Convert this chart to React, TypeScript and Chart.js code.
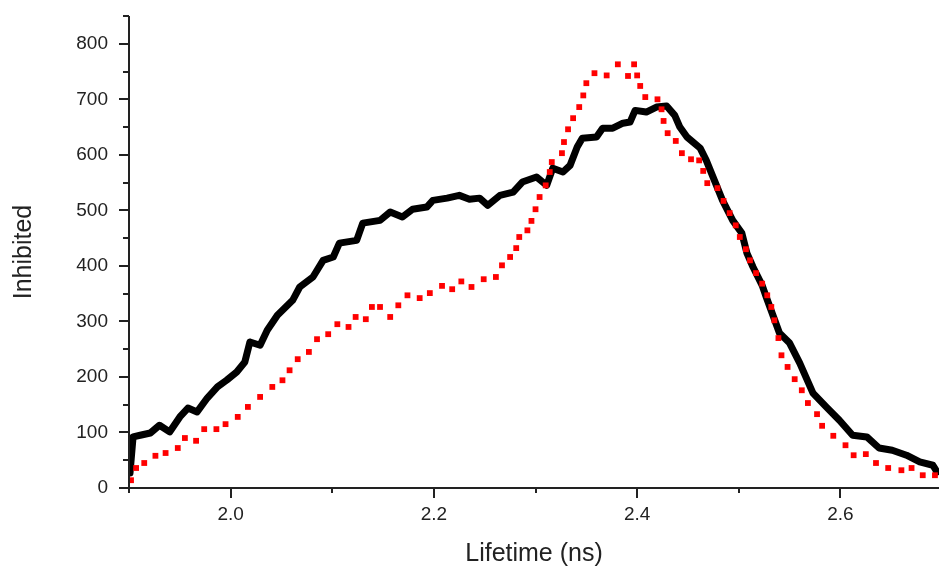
import { useEffect, useRef } from "react";
import { Chart, registerables } from "chart.js";
Chart.register(...registerables);

// Black series (solid line)
const blackX = [1.901, 1.904, 1.911, 1.921, 1.930, 1.940, 1.950, 1.958, 1.967, 1.977, 1.987, 1.996, 2.006, 2.014, 2.019, 2.029, 2.036, 2.046, 2.061, 2.068, 2.081, 2.091, 2.101, 2.107, 2.124, 2.130, 2.147, 2.157, 2.169, 2.179, 2.193, 2.199, 2.213, 2.225, 2.235, 2.245, 2.253, 2.265, 2.278, 2.287, 2.301, 2.311, 2.317, 2.327, 2.334, 2.341, 2.346, 2.360, 2.366, 2.376, 2.386, 2.393, 2.398, 2.409, 2.419, 2.429, 2.437, 2.442, 2.449, 2.462, 2.468, 2.476, 2.484, 2.494, 2.503, 2.508, 2.514, 2.523, 2.527, 2.540, 2.550, 2.560, 2.573, 2.586, 2.599, 2.612, 2.626, 2.638, 2.651, 2.665, 2.678, 2.691, 2.695];
const blackY = [27, 92, 95, 99, 113, 101, 128, 144, 137, 162, 182, 194, 209, 227, 263, 257, 284, 311, 338, 362, 380, 410, 416, 441, 446, 477, 482, 497, 488, 502, 506, 518, 522, 527, 520, 522, 509, 527, 533, 551, 560, 545, 576, 569, 581, 614, 630, 632, 648, 648, 657, 659, 680, 677, 686, 688, 671, 650, 632, 612, 590, 554, 518, 482, 459, 423, 398, 365, 344, 279, 261, 225, 171, 146, 122, 95, 92, 72, 68, 59, 47, 41, 29];

// Red series (square markers)
const redX = [1.902, 1.907, 1.915, 1.926, 1.936, 1.948, 1.955, 1.966, 1.974, 1.986, 1.995, 2.007, 2.017, 2.029, 2.041, 2.051, 2.058, 2.066, 2.077, 2.085, 2.096, 2.105, 2.116, 2.123, 2.133, 2.139, 2.147, 2.157, 2.165, 2.174, 2.186, 2.196, 2.208, 2.218, 2.227, 2.237, 2.249, 2.261, 2.267, 2.275, 2.281, 2.284, 2.292, 2.296, 2.300, 2.304, 2.310, 2.314, 2.316, 2.326, 2.328, 2.332, 2.337, 2.343, 2.347, 2.350, 2.358, 2.370, 2.381, 2.391, 2.397, 2.400, 2.403, 2.408, 2.420, 2.424, 2.426, 2.430, 2.438, 2.444, 2.453, 2.461, 2.465, 2.469, 2.479, 2.485, 2.491, 2.497, 2.501, 2.507, 2.511, 2.517, 2.523, 2.528, 2.532, 2.535, 2.539, 2.542, 2.548, 2.555, 2.562, 2.568, 2.577, 2.582, 2.593, 2.605, 2.613, 2.625, 2.635, 2.647, 2.660, 2.670, 2.681, 2.693];
const redY = [14, 36, 45, 58, 63, 72, 90, 85, 106, 106, 115, 128, 146, 164, 182, 194, 212, 232, 245, 268, 277, 295, 290, 308, 304, 326, 326, 308, 329, 347, 342, 351, 364, 358, 372, 362, 376, 380, 401, 416, 432, 452, 464, 481, 502, 524, 545, 569, 587, 603, 623, 646, 666, 686, 707, 729, 747, 743, 763, 742, 763, 743, 724, 704, 700, 682, 661, 639, 625, 603, 592, 590, 571, 549, 540, 517, 495, 473, 452, 430, 410, 387, 368, 347, 326, 302, 270, 239, 218, 196, 176, 153, 133, 112, 94, 77, 59, 61, 45, 36, 32, 36, 23, 23];

const xMajorTicks = [2.0, 2.2, 2.4, 2.6];
const xMinorTicks = [1.9, 2.1, 2.3, 2.5];
const yMajorTicks = [0, 100, 200, 300, 400, 500, 600, 700, 800];
const yMinorTicks = [50, 150, 250, 350, 450, 550, 650, 750, 850];
const xRange = [1.9, 2.697];
const yRange = [0, 850];
const xTitle = "Lifetime (ns)";
const yTitle = "Inhibited";

const AXIS_COLOR = "#222";
const TEXT_COLOR = "#222";
const FONT = "'Liberation Sans', Arial, sans-serif";

const axisPlugin = {
  id: "originAxes",
  afterDraw(chart: any) {
    const { ctx, chartArea } = chart;
    const xs = chart.scales.x;
    const ys = chart.scales.y;
    const { left, right, top, bottom } = chartArea;
    ctx.save();
    ctx.strokeStyle = AXIS_COLOR;
    ctx.lineWidth = 2;
    ctx.lineCap = "butt";
    ctx.beginPath();
    ctx.moveTo(left, top);
    ctx.lineTo(left, bottom + 1);
    ctx.moveTo(left - 1, bottom);
    ctx.lineTo(right, bottom);
    yMajorTicks.forEach((v) => {
      const p = Math.round(ys.getPixelForValue(v));
      ctx.moveTo(left - 10, p);
      ctx.lineTo(left, p);
    });
    yMinorTicks.forEach((v) => {
      const p = Math.round(ys.getPixelForValue(v));
      ctx.moveTo(left - 6, p);
      ctx.lineTo(left, p);
    });
    xMajorTicks.forEach((v) => {
      const p = Math.round(xs.getPixelForValue(v));
      ctx.moveTo(p, bottom);
      ctx.lineTo(p, bottom + 10);
    });
    xMinorTicks.forEach((v) => {
      const p = Math.round(xs.getPixelForValue(v));
      ctx.moveTo(p, bottom);
      ctx.lineTo(p, bottom + 5);
    });
    ctx.stroke();
    ctx.restore();
  },
};

export default function App() {
  const ref = useRef<HTMLCanvasElement | null>(null);
  useEffect(() => {
    if (!ref.current) return;
    const chart = new Chart(ref.current, {
      type: "line",
      data: {
        datasets: [
          {
            label: "red",
            data: redX.map((x, i) => ({ x, y: redY[i] })),
            showLine: false,
            pointStyle: "rect",
            pointRadius: 4.1,
            pointBorderWidth: 0,
            pointBackgroundColor: "#ff0000",
            pointBorderColor: "#ff0000",
            borderColor: "#ff0000",
            fill: false,
          },
          {
            label: "black",
            data: blackX.map((x, i) => ({ x, y: blackY[i] })),
            borderColor: "#000000",
            borderWidth: 7,
            borderJoinStyle: "round",
            borderCapStyle: "round",
            pointRadius: 0,
            tension: 0,
            fill: false,
          },
        ],
      },
      options: {
        animation: false,
        responsive: false,
        layout: { autoPadding: false, padding: { top: 16, right: 0, left: 0, bottom: 0 } },
        plugins: { legend: { display: false }, tooltip: { enabled: false } },
        scales: {
          x: {
            type: "linear",
            min: xRange[0],
            max: xRange[1],
            afterBuildTicks: (s: any) => {
              s.ticks = xMajorTicks.map((v) => ({ value: v }));
            },
            afterFit: (s: any) => {
              s.height = 81;
              s.paddingLeft = 0;
              s.paddingRight = 0;
            },
            grid: { display: false, drawTicks: false },
            border: { display: false },
            ticks: {
              padding: 15,
              color: TEXT_COLOR,
              font: { family: FONT, size: 19 },
              maxRotation: 0,
              callback: (v: any) => Number(v).toFixed(1),
            },
            title: {
              display: true,
              text: xTitle,
              color: TEXT_COLOR,
              font: { family: FONT, size: 25 },
              padding: { top: 0, bottom: 0 },
            },
          },
          y: {
            type: "linear",
            min: yRange[0],
            max: yRange[1],
            afterBuildTicks: (s: any) => {
              s.ticks = yMajorTicks.map((v) => ({ value: v }));
            },
            afterFit: (s: any) => {
              s.width = 129;
              s.paddingTop = 0;
              s.paddingBottom = 0;
            },
            grid: { display: false, drawTicks: false },
            border: { display: false },
            ticks: {
              padding: 21,
              color: TEXT_COLOR,
              font: { family: FONT, size: 19 },
              callback: (v: any) => String(v),
            },
            title: {
              display: true,
              text: yTitle,
              color: TEXT_COLOR,
              font: { family: FONT, size: 25 },
              padding: { top: 9, bottom: 0 },
            },
          },
        },
      },
      plugins: [axisPlugin],
    } as any);
    return () => chart.destroy();
  }, []);
  return (
    <div style={{ position: "absolute", left: 0, top: 0, width: 939, height: 569, background: "#fff" }}>
      <canvas ref={ref} width={939} height={569} style={{ display: "block" }} />
    </div>
  );
}
